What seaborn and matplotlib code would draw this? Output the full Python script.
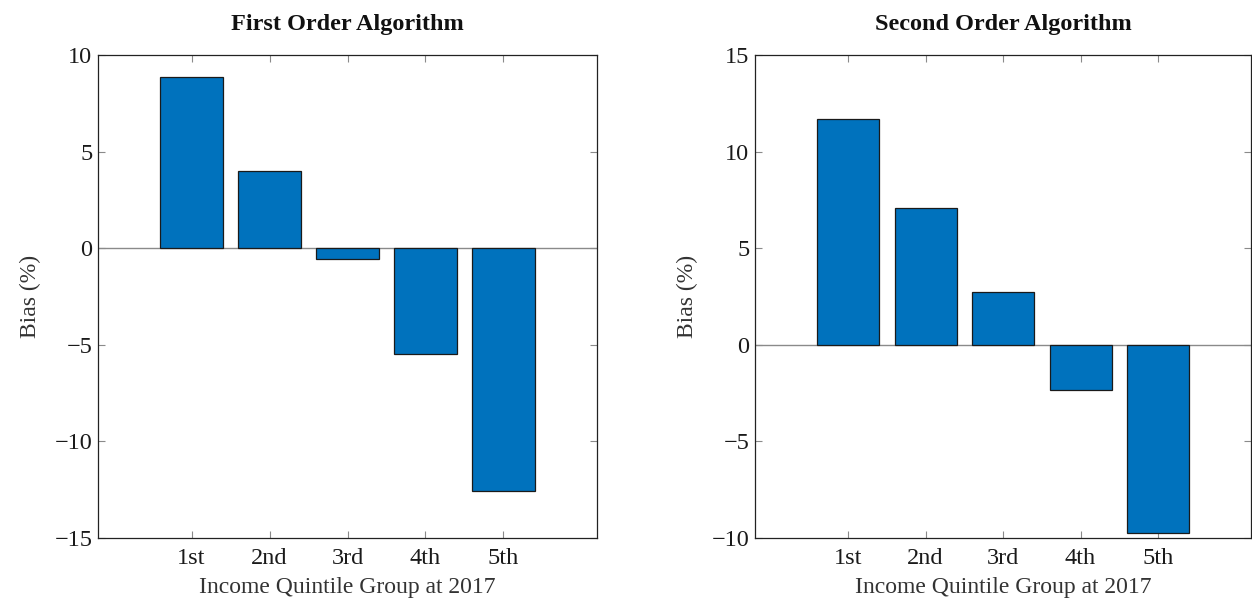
import matplotlib
matplotlib.use("Agg")
import matplotlib.pyplot as plt
import seaborn as sns
import pandas as pd

# Bias by income quintile for the two estimation algorithms
quintiles = ["1st", "2nd", "3rd", "4th", "5th"]
first_order_bias = [8.87, 3.99, -0.54, -5.46, -12.55]
second_order_bias = [11.70, 7.09, 2.73, -2.36, -9.74]

titles = ["First Order Algorithm", "Second Order Algorithm"]
y_limits = [(-15, 10), (-10, 15)]
y_ticks = [[-15, -10, -5, 0, 5, 10], [-10, -5, 0, 5, 10, 15]]

sns.set_style("white")
plt.rcParams["font.family"] = ["Liberation Serif", "DejaVu Serif"]
plt.rcParams["axes.unicode_minus"] = True

fig = plt.figure(figsize=(12.52, 6.07), dpi=100)
axes = [
    fig.add_axes([98 / 1252, 1 - 538 / 607, 499 / 1252, 483 / 607]),
    fig.add_axes([755 / 1252, 1 - 538 / 607, 496 / 1252, 483 / 607]),
]

bar_color = "#0072BD"
tick_gray = "#8a8a8a"

for ax, values, title, ylim, yt in zip(axes, [first_order_bias, second_order_bias],
                                        titles, y_limits, y_ticks):
    df = pd.DataFrame({"group": quintiles, "bias": values})
    sns.barplot(data=df, x="group", y="bias", color=bar_color, saturation=1,
                edgecolor="#1a1a1a", linewidth=0.9, width=0.8, ax=ax, zorder=3)
    ax.axhline(0, color=tick_gray, linewidth=1.0, zorder=2)
    ax.set_xlim(-1.2, 5.2)
    ax.set_ylim(*ylim)
    ax.set_yticks(yt)
    ax.set_yticklabels([f"{v}".replace("-", "\u2212") for v in yt])
    ax.tick_params(axis="both", which="both", direction="in", length=5, width=0.8,
                   color=tick_gray, top=True, right=True, bottom=True, left=True,
                   labelsize=17.5, labelcolor="#1a1a1a")
    ax.tick_params(axis="y", pad=4)
    ax.tick_params(axis="x", pad=7)
    for s in ax.spines.values():
        s.set_color("#222222")
        s.set_linewidth(0.9)
        s.set_visible(True)
    ax.set_title(title, fontsize=17.5, fontweight="bold", pad=18, color="#111111")
    ax.set_xlabel("Income Quintile Group at 2017", fontsize=17, color="#333333", labelpad=6)
    ax.set_ylabel("Bias (%)", fontsize=17, color="#333333", labelpad=10)
    ax.grid(False)

fig.savefig("out.png", dpi=100)
